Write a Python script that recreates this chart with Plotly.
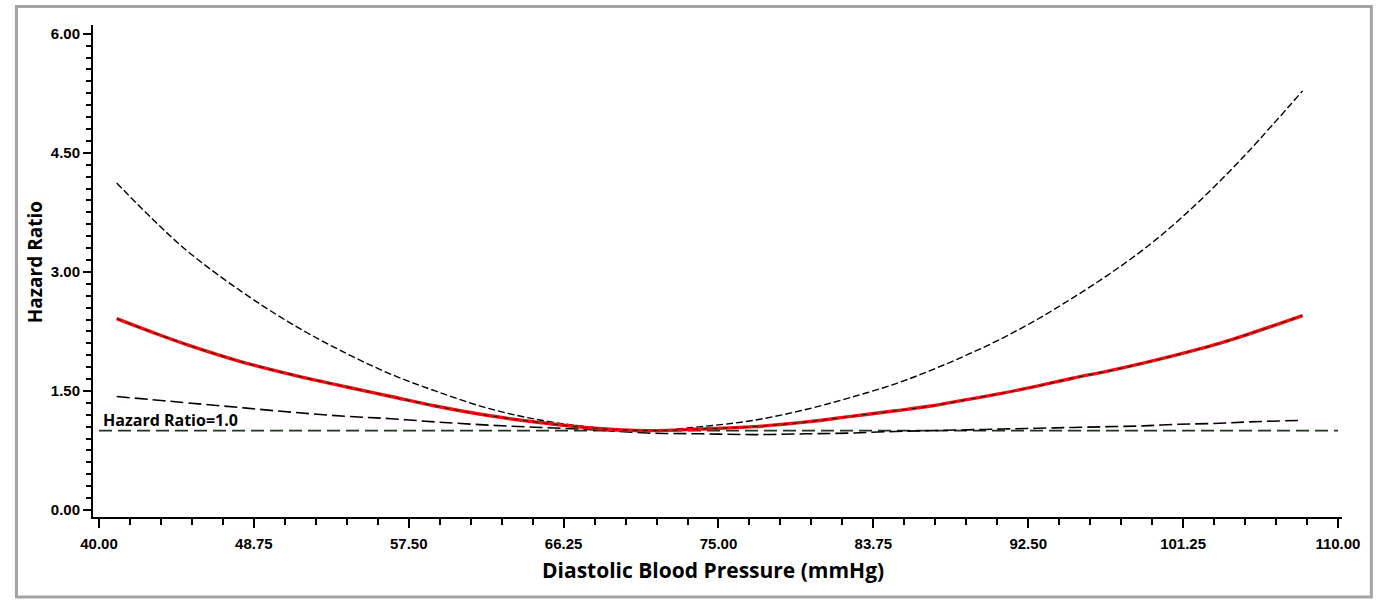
import plotly.graph_objects as go

# Data
dbp = [41, 43, 45, 48, 51, 54, 56.5, 59, 62, 65, 68, 71, 74, 77, 80, 82.5, 85, 87, 89,
       91, 93, 95, 97, 99, 101, 103, 105, 108]
hr = [2.41, 2.24, 2.08, 1.87, 1.70, 1.55, 1.43, 1.31, 1.19, 1.10, 1.03, 1.00, 1.02, 1.05,
      1.11, 1.18, 1.25, 1.31, 1.39, 1.47, 1.56, 1.66, 1.75, 1.85, 1.96, 2.08, 2.22, 2.45]
upper = [4.12, 3.67, 3.26, 2.76, 2.33, 1.97, 1.71, 1.50, 1.28, 1.13, 1.04, 1.00, 1.05,
         1.13, 1.27, 1.42, 1.59, 1.76, 1.95, 2.16, 2.40, 2.67, 2.96, 3.28, 3.65, 4.07, 4.53, 5.28]
lower = [1.43, 1.39, 1.35, 1.29, 1.23, 1.18, 1.15, 1.11, 1.07, 1.04, 1.01, 0.97, 0.96,
         0.95, 0.96, 0.97, 0.99, 1.00, 1.01, 1.02, 1.03, 1.04, 1.05, 1.06, 1.08, 1.09, 1.11, 1.13]
ref_x = [40.0, 110.0]
ref_y = [1.0, 1.0]

x_ticks = [40.00, 48.75, 57.50, 66.25, 75.00, 83.75, 92.50, 101.25, 110.00]
x_ticklabels = ["40.00", "48.75", "57.50", "66.25", "75.00", "83.75", "92.50", "101.25", "110.00"]
y_ticks = [0.0, 1.5, 3.0, 4.5, 6.0]
y_ticklabels = ["0.00", "1.50", "3.00", "4.50", "6.00"]

fig = go.Figure()
fig.add_trace(go.Scatter(x=ref_x, y=ref_y, mode="lines",
                         line=dict(color="#1e3320", width=1.6, dash="13px,6px"),
                         showlegend=False, hoverinfo="skip"))
fig.add_trace(go.Scatter(x=dbp, y=lower, mode="lines", line_shape="spline",
                         line=dict(color="black", width=1.6, dash="13px,5px"),
                         showlegend=False))
fig.add_trace(go.Scatter(x=dbp, y=upper, mode="lines", line_shape="spline",
                         line=dict(color="black", width=1.4, dash="7px,3px"),
                         showlegend=False))
fig.add_trace(go.Scatter(x=dbp, y=hr, mode="lines", line_shape="spline",
                         line=dict(color="#ee1111", width=3.4),
                         showlegend=False))
fig.add_trace(go.Scatter(x=dbp, y=hr, mode="lines", line_shape="spline",
                         line=dict(color="black", width=0.8, dash="5px,5px"),
                         showlegend=False, hoverinfo="skip"))

fig.add_annotation(x=40.1, y=1.0, xref="x", yref="y", text="<b>Hazard Ratio=1.0</b>",
                   showarrow=False, xanchor="left", yanchor="bottom", yshift=-2,
                   font=dict(family="Open Sans", size=16, color="black"))

# axis titles as annotations for exact placement
fig.add_annotation(x=0.4964, y=-0.1077, xref="paper", yref="paper",
                   text="<b>Diastolic Blood Pressure (mmHg)</b>", showarrow=False,
                   xanchor="center", yanchor="middle",
                   font=dict(family="Open Sans", size=21, color="black"))
fig.add_annotation(x=-0.0464, y=0.518, xref="paper", yref="paper",
                   text="<b>Hazard Ratio</b>", showarrow=False, textangle=-90,
                   xanchor="center", yanchor="middle",
                   font=dict(family="Open Sans", size=19, color="black"))

# grey frame around the whole figure
fig.add_shape(type="rect", xref="paper", yref="paper",
              x0=-0.0613, x1=1.0235, y0=-0.1626, y1=1.0376,
              line=dict(color="#a3a3a3", width=3), fillcolor="rgba(0,0,0,0)")

fig.update_layout(
    width=1377, height=600,
    margin=dict(l=93, r=35, t=25, b=83, autoexpand=False),
    paper_bgcolor="white", plot_bgcolor="white",
    font=dict(family="Liberation Sans", color="black"),
    xaxis=dict(range=[39.66, 110.23], tickvals=x_ticks, ticktext=x_ticklabels,
               showgrid=False, zeroline=False, showline=True, linecolor="black",
               linewidth=2, ticks="outside", ticklen=9, tickwidth=2, tickcolor="black",
               ticklabelstandoff=3,
               tickfont=dict(family="Liberation Sans", size=15, color="black", weight="bold"),
               minor=dict(dtick=1.75, tick0=40, ticks="outside", ticklen=6,
                          tickwidth=1.5, tickcolor="black", showgrid=False)),
    yaxis=dict(range=[-0.088, 6.11], tickvals=y_ticks, ticktext=y_ticklabels,
               showgrid=False, zeroline=False, showline=True, linecolor="black",
               linewidth=2, ticks="outside", ticklen=8, tickwidth=2, tickcolor="black",
               tickfont=dict(family="Liberation Sans", size=15, color="black", weight="bold"),
               minor=dict(dtick=0.15, tick0=0, ticks="outside", ticklen=5,
                          tickwidth=1.5, tickcolor="black", showgrid=False)),
)

fig.write_html("out.html", config={"displayModeBar": False},
               post_script="document.body.style.margin='0';")
